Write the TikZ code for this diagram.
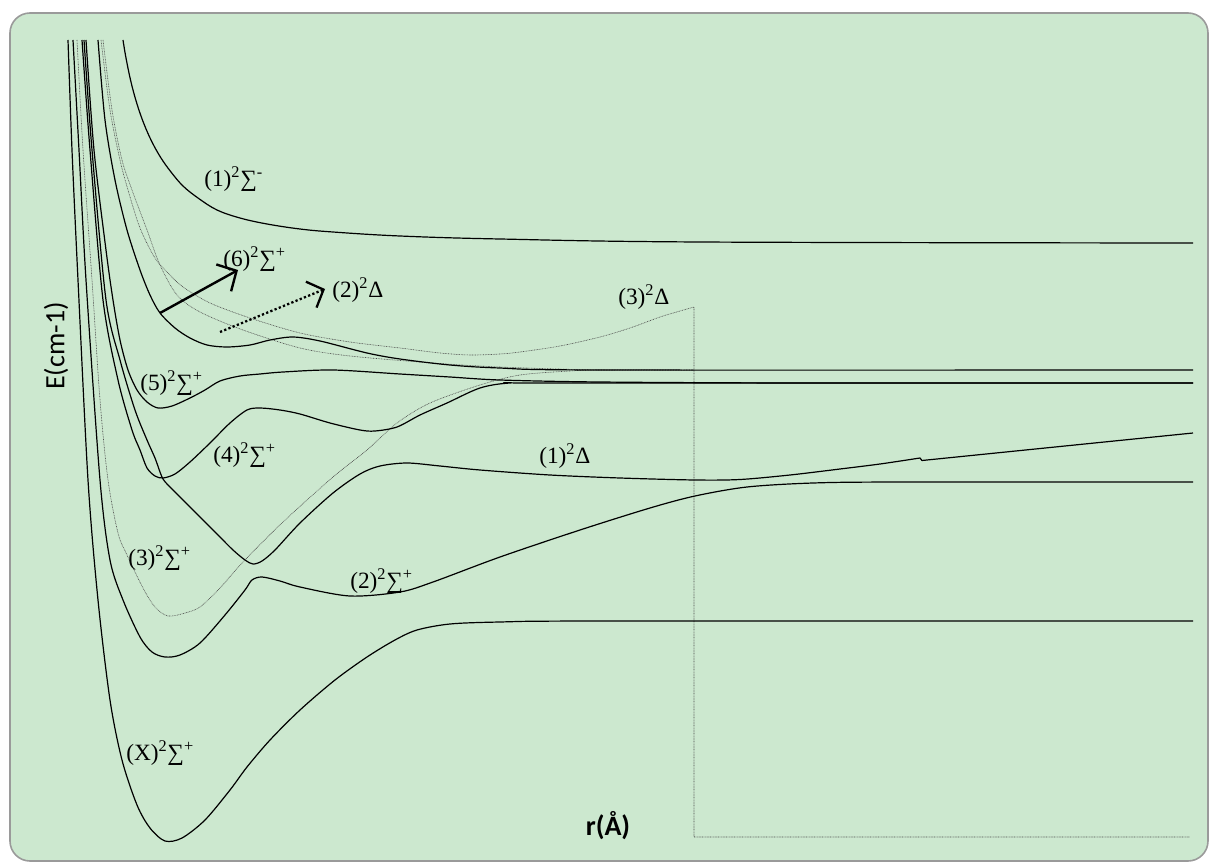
\documentclass[tikz,border=0pt]{standalone}
\usepackage{fontspec}
\setmainfont{Liberation Serif}
\newfontfamily\axfont{Carlito}
\usetikzlibrary{arrows.meta}
\definecolor{bgcol}{HTML}{CCE8CF}
\definecolor{framecol}{HTML}{9A9A9A}
\newcommand\st[3]{(#1)\textsuperscript{2}#2\textsuperscript{#3}}
\begin{document}
\begin{tikzpicture}[x=0.75pt,y=-0.75pt,
  pot/.style={line width=0.9pt, black, line join=round},
  dpot/.style={line width=0.45pt, black!70, dash pattern=on 0.6pt off 0.6pt},
  lab/.style={font=\fontsize{17.5}{20}\selectfont, inner sep=0pt, anchor=base west},
  axlab/.style={font=\axfont\fontsize{21}{24}\selectfont, inner sep=0pt},
  bigarrow/.style={line width=1.8pt, -{Straight Barb[length=11pt,width=23pt,line width=1.8pt]}},
  dotarrow/.style={line width=1.7pt, dash pattern=on 1.7pt off 1.7pt, -{Straight Barb[length=10pt,width=21pt,line width=1.7pt]}}]
\useasboundingbox (0,0) rectangle (1210,863);
\draw[fill=bgcol, draw=framecol, line width=1.2pt, rounded corners=15pt] (10,13) rectangle (1208,861);

% dotted curves
\draw[dpot] plot[smooth, tension=0.5] coordinates {(77,40) (83,150) (92,280) (100,400) (108,480) (118,533) (127,555) (143,588) (155,607) (168,616) (185,613) (200,607) (220,588) (243,562) (283,522) (333,477) (367,450) (397,423) (430,403) (480,385) (520,375) (570,371) (600,370) (694,370)};
\draw[dpot] plot[smooth, tension=0.5] coordinates {(101,40) (110,110) (120,160) (128,190) (140,228) (155,258) (170,275) (183,287) (210,303) (250,318) (300,333) (350,342) (400,348) (440,353) (470,355) (500,354) (520,352) (560,346) (600,337) (630,328) (660,317) (680,311) (694,307)} -- (694,837) -- (1190,837);
\draw[dpot] plot[smooth, tension=0.5] coordinates {(103,40) (112,110) (122,160) (132,190) (147,230) (160,265) (177,295) (200,312) (243,330) (300,348) (350,356) (433,363) (500,367) (600,370) (694,370)};

% solid curves
% X
\draw[pot] plot[smooth, tension=0.5] coordinates {(68,40) (72,150) (78,280) (88,480) (98,600) (110,700) (122,760) (137,805) (150,828) (165,841) (182,838) (205,820) (230,790) (247,767) (270,740) (300,710) (335,680) (367,657) (395,640) (417,630) (450,624) (500,622) (600,621) (1193,621)};
% B
\draw[pot] plot[smooth, tension=0.5] coordinates {(73,40) (79,150) (86,280) (100,480) (110,560) (123,600) (140,637) (152,652) (165,657) (180,655) (200,643) (225,615) (245,590) (252,580) (262,577) (280,581) (300,587) (350,596) (400,592) (433,582) (500,557) (580,530) (650,508) (695,496) (747,487) (813,483) (900,482) (1193,482)};
% D (4)
\draw[pot] plot[smooth, tension=0.5] coordinates {(82,40) (90,150) (103,300) (118,380) (132,430) (140,450) (147,468) (155,476) (163,478) (175,474) (190,462) (210,443) (230,423) (247,410) (260,408) (280,410) (300,414) (330,423) (360,430) (375,431) (397,427) (420,415) (447,403) (480,388) (510,383) (560,383) (1193,383)};
% C (1)Delta
\draw[pot] plot[smooth, tension=0.5] coordinates {(84,40) (92,150) (106,300) (120,360) (135,410) (147,440) (155,458) (160,472) (163,479) (168,485) (183,500) (200,517) (218,535) (233,550) (245,560) (253,564) (262,561) (275,550) (300,523) (333,493) (360,474) (380,466) (407,463) (440,466) (480,470) (550,475) (620,478) (695,480) (740,479.5) (790,475) (840,469) (880,464) (920,458)} -- (922,460.5) -- (1193,433);
% E (5)
\draw[pot] plot[smooth, tension=0.5] coordinates {(86,40) (94,150) (106,250) (113,300) (120,340) (128,370) (137,390) (147,402) (158,408) (172,406) (190,398) (205,390) (220,381) (240,376) (260,374) (283,372) (333,370) (400,374) (450,377) (500,380) (600,382) (800,383) (1193,383)};
% F (6)
\draw[pot] plot[smooth, tension=0.5] coordinates {(98,40) (105,120) (115,180) (127,230) (140,270) (150,295) (160,313) (175,328) (190,338) (207,345) (227,347) (250,345) (270,340) (293,337) (320,341) (367,353) (400,359) (450,365) (500,368) (600,370) (1193,370)};
% (1) Sigma-
\draw[pot] plot[smooth, tension=0.6] coordinates {(123,40) (126,58) (131,82) (137,104) (144,124) (152,142) (161,158) (171,172) (183,186) (198,198) (217,210) (240,218) (267,224) (300,229) (333,232) (400,236) (500,239) (700,242) (1193,243)};

% arrows
\coordinate (a1s) at (160,313);
\coordinate (a1e) at (238,270);
\coordinate (a2s) at (220,332);
\coordinate (a2e) at (325,289);
\draw[bigarrow] (a1s) -- (a1e);
\draw[dotarrow] (a2s) -- (a2e);

% labels
\node[lab] (l1sm) at (204,186) {\st{1}{∑}{-}};
\node[lab] (l6) at (223,266) {\st{6}{∑}{+}};
\node[lab] (l2d) at (332,297) {\st{2}{Δ}{}};
\node[lab] (l3d) at (618,304) {\st{3}{Δ}{}};
\node[lab] (l5) at (140,390) {\st{5}{∑}{+}};
\node[lab] (l4) at (213,462) {\st{4}{∑}{+}};
\node[lab] (l3) at (128,565) {\st{3}{∑}{+}};
\node[lab] (l2) at (350,588) {\st{2}{∑}{+}};
\node[lab] (lX) at (126,760) {\st{X}{∑}{+}};
\node[lab] (l1d) at (539,463) {\st{1}{Δ}{}};

\node[axlab, rotate=90] (ylab) at (56,346) {E(cm-1)};
\node[axlab, font=\axfont\bfseries\fontsize{21}{24}\selectfont] (xlab) at (608,826) {r(Å)};
\end{tikzpicture}
\end{document}
